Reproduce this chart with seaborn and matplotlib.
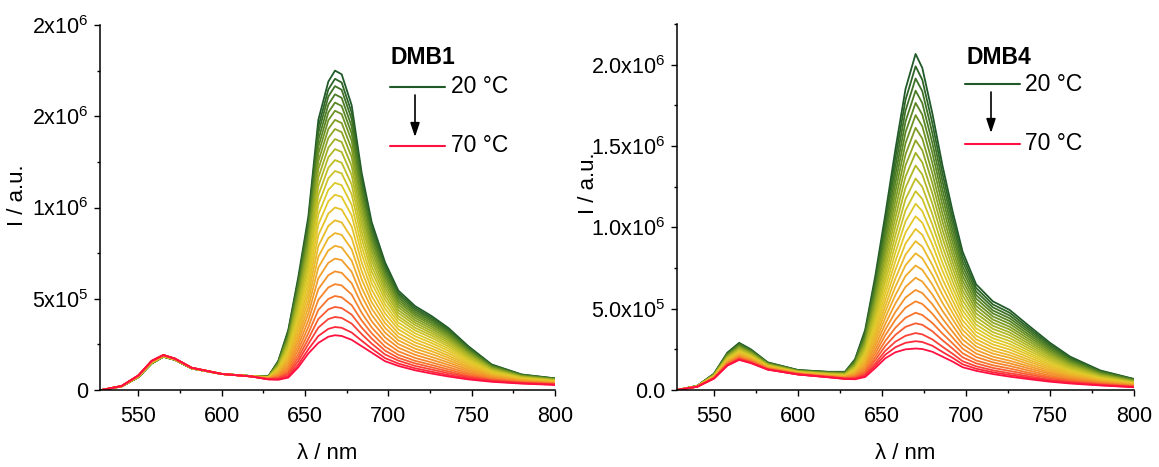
import numpy as np
import pandas as pd
import matplotlib
matplotlib.use("Agg")
import matplotlib.pyplot as plt
import seaborn as sns
from matplotlib.colors import LinearSegmentedColormap
from matplotlib.lines import Line2D
from matplotlib.patches import FancyArrowPatch
from matplotlib.ticker import FixedLocator, FixedFormatter, MultipleLocator

# ---------------- data (intensities in 10^3 counts) ----------------
temps = [20, 22, 24, 26, 28, 30, 32, 34, 36, 38, 40, 42, 44, 46, 48, 50,
         52, 54, 56, 58, 60, 62, 64, 66, 68, 70]

wl_dmb1 = [528, 540, 550, 558, 565, 572, 582, 600, 618, 628, 634, 640, 646, 652,
           658, 664, 668, 672, 678, 684, 690, 698, 706, 716, 726, 736, 748, 762,
           780, 800]
# each row: one wavelength, values for 20 -> 70 degC
dmb1_k = [
    [0, 0, 0, 0, 0, 0, 0, 0, 0, 0, 0, 0, 0, 0, 0, 0, 0, 0, 0, 0, 0, 0, 0, 0, 0, 0],
    [20, 20, 20, 20, 20, 20, 20, 20, 21, 21, 21, 21, 21, 21, 21, 21, 21, 21, 21, 22, 22, 22, 22, 22, 22, 22],
    [70, 70, 71, 71, 71, 72, 72, 72, 73, 73, 73, 74, 74, 75, 75, 76, 76, 77, 77, 78, 78, 79, 79, 79, 80, 80],
    [145, 145, 146, 146, 147, 147, 148, 148, 149, 149, 150, 151, 151, 152, 153, 153, 154, 155, 156, 156, 157, 158, 158, 159, 160, 160],
    [182, 182, 183, 183, 183, 184, 184, 184, 185, 185, 185, 186, 186, 187, 187, 188, 188, 189, 189, 190, 190, 191, 191, 191, 192, 192],
    [165, 165, 165, 166, 166, 166, 166, 167, 167, 167, 167, 168, 168, 168, 169, 169, 169, 170, 170, 170, 171, 171, 171, 172, 172, 172],
    [118, 118, 118, 118, 118, 119, 119, 119, 119, 119, 119, 120, 120, 120, 120, 120, 120, 121, 121, 121, 121, 121, 122, 122, 122, 122],
    [88, 88, 88, 88, 88, 88, 88, 88, 88, 88, 88, 88, 88, 88, 88, 88, 88, 88, 88, 88, 88, 88, 88, 88, 88, 88],
    [76, 76, 76, 76, 76, 76, 76, 76, 75, 75, 75, 75, 75, 75, 75, 75, 75, 75, 75, 74, 74, 74, 74, 74, 74, 74],
    [75, 74, 74, 73, 73, 72, 72, 71, 71, 70, 69, 69, 68, 67, 66, 65, 65, 64, 63, 62, 61, 61, 60, 59, 59, 58],
    [160, 157, 154, 151, 147, 144, 141, 137, 133, 129, 125, 121, 116, 111, 106, 101, 96, 91, 86, 81, 76, 71, 67, 63, 59, 56],
    [330, 322, 314, 306, 298, 290, 281, 272, 262, 252, 241, 231, 219, 207, 195, 182, 169, 157, 144, 131, 119, 107, 96, 86, 76, 68],
    [620, 605, 591, 576, 560, 545, 528, 511, 492, 473, 453, 432, 410, 388, 364, 340, 316, 292, 269, 244, 221, 198, 178, 159, 140, 125],
    [950, 927, 906, 883, 859, 836, 811, 784, 756, 727, 697, 666, 632, 598, 562, 526, 490, 454, 418, 381, 345, 311, 280, 252, 223, 200],
    [1480, 1442, 1408, 1370, 1332, 1294, 1253, 1210, 1164, 1117, 1067, 1017, 962, 907, 848, 788, 730, 671, 612, 553, 494, 439, 389, 342, 296, 258],
    [1690, 1647, 1608, 1564, 1521, 1478, 1430, 1381, 1328, 1275, 1218, 1160, 1097, 1034, 967, 899, 832, 765, 697, 629, 562, 499, 442, 389, 335, 292],
    [1750, 1705, 1665, 1620, 1575, 1530, 1480, 1430, 1375, 1320, 1260, 1200, 1135, 1070, 1000, 930, 860, 790, 720, 650, 580, 515, 455, 400, 345, 300],
    [1730, 1685, 1645, 1601, 1556, 1512, 1463, 1413, 1359, 1304, 1245, 1187, 1122, 1058, 989, 918, 850, 781, 712, 642, 573, 508, 449, 395, 341, 296],
    [1560, 1520, 1484, 1444, 1405, 1365, 1321, 1276, 1227, 1178, 1126, 1073, 1015, 957, 896, 833, 771, 709, 648, 585, 523, 465, 413, 364, 315, 275],
    [1190, 1161, 1134, 1105, 1075, 1046, 1013, 980, 944, 908, 869, 830, 787, 745, 699, 652, 607, 561, 516, 469, 423, 381, 342, 306, 270, 240],
    [920, 898, 878, 856, 834, 811, 787, 762, 735, 708, 678, 649, 617, 585, 550, 515, 481, 447, 412, 377, 343, 311, 282, 254, 227, 205],
    [700, 683, 668, 651, 634, 618, 599, 580, 560, 539, 517, 495, 470, 446, 420, 393, 367, 341, 315, 289, 263, 238, 216, 195, 175, 158],
    [545, 532, 521, 508, 495, 482, 468, 454, 438, 422, 405, 389, 370, 351, 332, 311, 291, 272, 252, 232, 212, 193, 176, 161, 145, 132],
    [460, 449, 439, 428, 417, 407, 395, 382, 369, 356, 341, 327, 311, 295, 278, 261, 244, 227, 210, 193, 176, 160, 146, 132, 119, 108],
    [405, 395, 386, 377, 367, 357, 346, 335, 323, 311, 299, 286, 271, 257, 242, 227, 212, 197, 181, 166, 151, 137, 124, 112, 100, 90],
    [340, 332, 324, 316, 308, 300, 291, 281, 271, 261, 250, 239, 227, 215, 202, 189, 177, 164, 151, 138, 125, 113, 102, 92, 82, 74],
    [240, 234, 229, 224, 218, 212, 206, 200, 193, 186, 178, 171, 163, 155, 146, 137, 128, 120, 111, 102, 93, 85, 77, 71, 64, 58],
    [140, 137, 134, 131, 129, 126, 122, 119, 115, 112, 108, 104, 100, 95, 91, 86, 82, 77, 73, 68, 63, 59, 55, 52, 48, 45],
    [85, 84, 82, 81, 79, 77, 76, 74, 72, 70, 68, 66, 64, 62, 59, 57, 54, 52, 50, 47, 45, 42, 40, 39, 37, 35],
    [64, 63, 62, 61, 60, 59, 57, 56, 55, 53, 52, 50, 49, 47, 45, 44, 42, 40, 38, 37, 35, 33, 32, 31, 29, 28],
]

wl_dmb4 = [528, 540, 550, 558, 565, 572, 582, 600, 618, 628, 634, 640, 646, 652,
           658, 664, 670, 674, 680, 686, 692, 698, 706, 716, 726, 738, 750, 762,
           780, 800]
dmb4_k = [
    [0, 0, 0, 0, 0, 0, 0, 0, 0, 0, 0, 0, 0, 0, 0, 0, 0, 0, 0, 0, 0, 0, 0, 0, 0, 0],
    [25, 25, 25, 24, 24, 24, 24, 24, 23, 23, 23, 23, 22, 22, 22, 22, 22, 21, 21, 21, 21, 21, 20, 20, 20, 20],
    [100, 99, 98, 96, 95, 94, 93, 91, 90, 89, 87, 86, 85, 84, 82, 81, 80, 78, 77, 76, 75, 74, 73, 72, 71, 70],
    [230, 227, 223, 220, 217, 213, 210, 207, 203, 200, 196, 193, 189, 186, 182, 179, 176, 173, 169, 166, 163, 160, 157, 154, 152, 150],
    [290, 286, 281, 277, 273, 268, 264, 259, 255, 250, 246, 241, 237, 232, 228, 223, 219, 215, 210, 206, 202, 198, 194, 190, 188, 185],
    [250, 246, 243, 239, 236, 232, 229, 225, 221, 218, 214, 210, 207, 203, 200, 196, 192, 189, 185, 182, 179, 175, 172, 169, 167, 165],
    [170, 168, 166, 164, 163, 161, 159, 157, 155, 153, 151, 149, 147, 145, 143, 141, 140, 138, 136, 134, 132, 130, 129, 127, 126, 125],
    [123, 122, 121, 120, 118, 117, 116, 115, 114, 112, 111, 110, 109, 108, 106, 105, 104, 103, 102, 101, 100, 98, 97, 96, 96, 95],
    [112, 111, 109, 108, 106, 105, 104, 102, 101, 99, 98, 96, 95, 93, 92, 90, 89, 88, 86, 85, 83, 82, 81, 80, 79, 78],
    [112, 110, 108, 107, 105, 103, 101, 99, 97, 95, 93, 92, 90, 88, 86, 84, 82, 80, 79, 77, 75, 73, 72, 70, 69, 68],
    [190, 185, 180, 175, 169, 164, 159, 154, 148, 143, 138, 132, 127, 122, 116, 111, 106, 101, 96, 91, 86, 81, 77, 72, 69, 66],
    [370, 358, 346, 334, 322, 310, 297, 285, 273, 260, 247, 235, 222, 210, 198, 186, 174, 162, 150, 138, 126, 115, 105, 95, 87, 80],
    [700, 676, 653, 629, 606, 583, 558, 535, 510, 486, 461, 437, 412, 389, 364, 341, 318, 294, 271, 247, 225, 203, 184, 164, 149, 135],
    [1080, 1043, 1007, 969, 933, 896, 858, 821, 783, 745, 706, 668, 630, 592, 554, 517, 481, 445, 407, 371, 337, 302, 271, 241, 217, 195],
    [1480, 1428, 1376, 1324, 1273, 1220, 1167, 1114, 1061, 1007, 952, 898, 845, 792, 739, 686, 635, 584, 532, 480, 432, 383, 339, 297, 263, 232],
    [1850, 1783, 1717, 1650, 1584, 1517, 1448, 1381, 1312, 1244, 1173, 1104, 1036, 968, 900, 832, 767, 701, 634, 568, 506, 444, 388, 333, 290, 250],
    [2066, 1990, 1915, 1840, 1765, 1690, 1612, 1535, 1458, 1380, 1300, 1222, 1145, 1068, 990, 915, 840, 765, 690, 615, 545, 475, 410, 350, 300, 255],
    [1980, 1907, 1837, 1764, 1693, 1621, 1546, 1474, 1399, 1325, 1249, 1175, 1100, 1028, 954, 881, 810, 739, 667, 596, 529, 461, 401, 342, 295, 252],
    [1700, 1639, 1578, 1517, 1457, 1395, 1332, 1271, 1208, 1145, 1080, 1017, 954, 893, 830, 768, 708, 648, 587, 527, 469, 412, 361, 311, 272, 235],
    [1380, 1331, 1283, 1233, 1185, 1136, 1085, 1036, 985, 935, 883, 833, 782, 733, 682, 633, 585, 536, 487, 439, 393, 347, 306, 266, 234, 205],
    [1100, 1061, 1023, 984, 946, 908, 868, 829, 789, 749, 709, 669, 629, 590, 551, 512, 474, 436, 397, 359, 323, 287, 255, 223, 198, 175],
    [850, 820, 791, 761, 732, 702, 672, 642, 611, 581, 550, 519, 489, 459, 428, 398, 369, 340, 310, 281, 254, 226, 201, 177, 158, 140],
    [650, 628, 606, 584, 562, 539, 517, 494, 471, 448, 425, 402, 379, 357, 334, 312, 290, 268, 246, 224, 203, 182, 164, 146, 131, 118],
    [545, 526, 508, 489, 471, 452, 433, 414, 395, 376, 356, 337, 318, 299, 280, 261, 242, 224, 205, 187, 170, 152, 136, 121, 109, 98],
    [492, 475, 458, 441, 424, 407, 389, 372, 354, 337, 319, 301, 283, 266, 249, 231, 214, 198, 180, 164, 148, 132, 117, 103, 92, 82],
    [390, 376, 363, 350, 336, 323, 309, 295, 281, 267, 253, 239, 225, 212, 198, 184, 171, 157, 144, 131, 118, 105, 94, 83, 74, 66],
    [290, 280, 270, 260, 250, 240, 230, 220, 210, 199, 189, 179, 168, 158, 148, 138, 128, 118, 108, 99, 89, 80, 72, 63, 57, 51],
    [205, 198, 191, 184, 178, 171, 164, 157, 150, 143, 135, 128, 121, 114, 107, 100, 93, 87, 80, 73, 66, 60, 54, 49, 44, 40],
    [120, 116, 112, 109, 105, 101, 97, 93, 89, 85, 81, 77, 73, 69, 65, 62, 58, 54, 50, 46, 43, 39, 36, 33, 30, 28],
    [68, 66, 64, 62, 60, 57, 55, 53, 51, 49, 46, 44, 42, 40, 38, 36, 34, 31, 29, 27, 25, 23, 21, 20, 18, 17],
]

dmb1_yticks = [0, 5e5, 1e6, 1.5e6, 2e6]
dmb1_yticklabels = ["0", "5x10$^{5}$", "1x10$^{6}$", "2x10$^{6}$", "2x10$^{6}$"]
dmb4_yticks = [0, 5e5, 1e6, 1.5e6, 2e6]
dmb4_yticklabels = ["0.0", "5.0x10$^{5}$", "1.0x10$^{6}$", "1.5x10$^{6}$", "2.0x10$^{6}$"]
xticks = [550, 600, 650, 700, 750, 800]


def to_long(wl, table):
    rows = []
    for w, vals in zip(wl, table):
        for t, v in zip(temps, vals):
            rows.append({"wl": w, "T": t, "I": v * 1000.0})
    return pd.DataFrame(rows)


df1 = to_long(wl_dmb1, dmb1_k)
df4 = to_long(wl_dmb4, dmb4_k)

# ---------------- style ----------------
sns.set_style("ticks")
plt.rcParams["font.family"] = ["Liberation Sans", "DejaVu Sans"]
plt.rcParams["mathtext.fontset"] = "custom"
plt.rcParams["mathtext.rm"] = "Liberation Sans"
plt.rcParams["mathtext.it"] = "Liberation Sans:italic"
plt.rcParams["mathtext.bf"] = "Liberation Sans:bold"
plt.rcParams["mathtext.default"] = "regular"
plt.rcParams["text.color"] = "black"
plt.rcParams["axes.labelcolor"] = "black"

cmap = LinearSegmentedColormap.from_list(
    "temp", ["#1f5a28", "#5e8a24", "#a8b424", "#e2cc2a", "#eeb02a", "#f77a2c", "#ff1040"])
palette = {t: cmap(i / (len(temps) - 1)) for i, t in enumerate(temps)}

W, H = 1159, 467
fig = plt.figure(figsize=(W / 100, H / 100), dpi=100)


def fx(px):
    return px / W


def fy(py):
    return 1 - py / H


ax1 = fig.add_axes([fx(100), fy(390), (555 - 100) / W, (390 - 25) / H])
ax4 = fig.add_axes([fx(677), fy(390), (1134 - 677) / W, (390 - 24) / H])

for ax, df, xmin, ymax, yt, ytl, lab_x, lab_y in [
    (ax1, df1, 527, 2.0e6, dmb1_yticks, dmb1_yticklabels, -0.158, 0.535),
    (ax4, df4, 528, 2.25e6, dmb4_yticks, dmb4_yticklabels, -0.171, 0.566),
]:
    sns.lineplot(data=df, x="wl", y="I", hue="T", palette=palette, legend=False,
                 ax=ax, lw=1.3, estimator=None, errorbar=None)
    ax.set_xlim(xmin, 800)
    ax.set_ylim(0, ymax)
    ax.xaxis.set_major_locator(FixedLocator(xticks))
    ax.xaxis.set_minor_locator(MultipleLocator(25))
    ax.yaxis.set_major_locator(FixedLocator(yt))
    ax.yaxis.set_major_formatter(FixedFormatter(ytl))
    ax.yaxis.set_minor_locator(MultipleLocator(2.5e5))
    for s in ["top", "right"]:
        ax.spines[s].set_visible(False)
    for s in ["left", "bottom"]:
        ax.spines[s].set_linewidth(1.1)
        ax.spines[s].set_color("black")
    ax.tick_params(axis="both", which="major", direction="out", length=4.5, width=1.0,
                   labelsize=15.5, colors="black")
    ax.tick_params(axis="both", which="minor", direction="out", length=2.5, width=1.0,
                   colors="black")
    ax.tick_params(axis="x", which="major", pad=7)
    ax.tick_params(axis="y", which="major", pad=4)
    ax.set_xlabel("λ / nm", fontsize=16)
    ax.set_ylabel("I / a.u.", fontsize=16)
    ax.xaxis.set_label_coords(0.5, -0.145)
    ax.yaxis.set_label_coords(lab_x, lab_y)

green = palette[20]
red = palette[70]

for name, x0, x1, xt, xarr, yg, yr, ya0, ya1 in [
    ("DMB1", 390, 445, 451, 415, 86.7, 145.7, 95, 137),
    ("DMB4", 965, 1020, 1025, 991, 84.3, 144.0, 92, 133),
]:
    fig.text(fx(x0 + 1), fy(58), name, fontsize=16.5, fontweight="bold",
             va="center", ha="left")
    fig.add_artist(Line2D([fx(x0), fx(x1)], [fy(yg), fy(yg)], color=green, lw=1.5,
                          transform=fig.transFigure))
    fig.add_artist(Line2D([fx(x0), fx(x1)], [fy(yr), fy(yr)], color=red, lw=1.5,
                          transform=fig.transFigure))
    fig.text(fx(xt), fy(yg), "20 °C", fontsize=16.5, va="center", ha="left")
    fig.text(fx(xt), fy(yr), "70 °C", fontsize=16.5, va="center", ha="left")
    fig.add_artist(FancyArrowPatch((fx(xarr), fy(ya0)), (fx(xarr), fy(ya1)),
                                   transform=fig.transFigure,
                                   arrowstyle="-|>,head_length=0.6,head_width=0.2",
                                   mutation_scale=14, color="black", lw=1.2,
                                   shrinkA=0, shrinkB=0))

fig.savefig("out.png", dpi=100)
